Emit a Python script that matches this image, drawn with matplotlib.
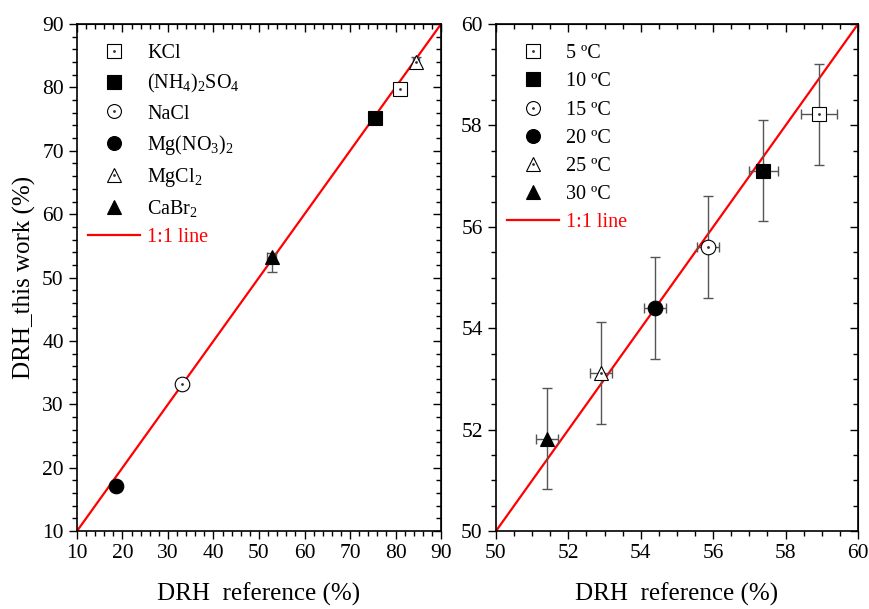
import matplotlib
matplotlib.use('Agg')
import matplotlib.pyplot as plt
from matplotlib.lines import Line2D
from matplotlib.ticker import MultipleLocator

plt.rcParams['font.family'] = ['Liberation Serif', 'DejaVu Serif']
plt.rcParams['mathtext.fontset'] = 'custom'
plt.rcParams['mathtext.rm'] = 'Liberation Serif'
plt.rcParams['mathtext.it'] = 'Liberation Serif:italic'

# Lewy panel - sole
sole = ['KCl', '(NH$_{\\mathrm{4}}$)$_{\\mathrm{2}}$SO$_{\\mathrm{4}}$', 'NaCl',
        'Mg(NO$_{\\mathrm{3}}$)$_{\\mathrm{2}}$', 'MgCl$_{\\mathrm{2}}$', 'CaBr$_{\\mathrm{2}}$']
x_sole = [81.0, 75.5, 33.0, 18.6, 84.5, 52.8]
y_sole = [79.7, 75.2, 33.2, 17.1, 84.0, 53.3]
xerr_sole = [0.6, 0.6, 0.6, 0.6, 0.6, 1.0]
yerr_sole_dol = [0.8, 0.8, 0.8, 0.8, 0.8, 2.4]
yerr_sole_gora = [0.8, 0.8, 0.8, 0.8, 0.8, 0.5]

# Prawy panel - temperatury
temp = ['5 ºC', '10 ºC', '15 ºC', '20 ºC', '25 ºC', '30 ºC']
x_temp = [58.92, 57.38, 55.86, 54.39, 52.90, 51.40]
y_temp = [58.22, 57.11, 55.60, 54.40, 53.12, 51.82]
xerr_temp = [0.5, 0.4, 0.3, 0.3, 0.3, 0.3]
yerr_temp = [1.0, 1.0, 1.0, 1.0, 1.0, 1.0]

markery = ['s', 's', 'o', 'o', '^', '^']
pelne = [False, True, False, True, False, True]

fig = plt.figure(figsize=(8.7, 6.09), dpi=100)
ax1 = fig.add_axes([0.0885, 0.128, 0.4184, 0.8325])
ax2 = fig.add_axes([0.5701, 0.128, 0.4161, 0.8325])


def rysuj(ax, xs, ys, xe, ye, etykiety, lim, major, minor):
    ax.plot(lim, lim, color='red', lw=1.6, zorder=2)
    uchwyty = []
    for i in range(len(xs)):
        fc = 'black' if pelne[i] else 'white'
        ax.errorbar(xs[i], ys[i], xerr=xe[i], yerr=[[ye[0][i]], [ye[1][i]]],
                    fmt='none', ecolor='#555555', elinewidth=1, capsize=3.5, zorder=3)
        ax.plot(xs[i], ys[i], marker=markery[i], ms=10.5, mfc=fc, mec='black',
                mew=0.8, ls='none', zorder=4)
        h = Line2D([], [], marker=markery[i], ms=10, mfc=fc, mec='black',
                   mew=0.8, ls='none')
        if not pelne[i]:
            ax.plot(xs[i], ys[i], marker='.', ms=2, color='#333333', zorder=5)
            h = (h, Line2D([], [], marker='.', ms=2, color='#333333', ls='none'))
        uchwyty.append(h)
    uchwyty.append(Line2D([], [], color='red', lw=1.6))
    leg = ax.legend(uchwyty, etykiety + ['1:1 line'], loc='upper left', frameon=False,
                    fontsize=14.5, handlelength=2.6, handletextpad=0.35,
                    labelspacing=0.45, borderaxespad=0.6,
                    bbox_to_anchor=(-0.025, 1.0))
    leg.get_texts()[-1].set_color('red')
    ax.set_xlim(lim)
    ax.set_ylim(lim)
    for a in (ax.xaxis, ax.yaxis):
        a.set_major_locator(MultipleLocator(major))
        a.set_minor_locator(MultipleLocator(minor))
    ax.tick_params(which='major', direction='out', length=6, width=1, labelsize=15.5)
    ax.tick_params(which='minor', direction='out', length=3.5, width=1)
    sx = ax.secondary_xaxis('top')
    sy = ax.secondary_yaxis('right')
    for s, a in ((sx, sx.xaxis), (sy, sy.yaxis)):
        a.set_major_locator(MultipleLocator(major))
        a.set_minor_locator(MultipleLocator(minor))
        s.tick_params(which='major', direction='in', length=6, width=1, labelsize=0,
                      labeltop=False, labelright=False)
        s.tick_params(which='minor', direction='in', length=3.5, width=1)
    for sp in ax.spines.values():
        sp.set_linewidth(1.2)
    ax.set_xlabel('DRH  reference (%)', fontsize=18, labelpad=14)


rysuj(ax1, x_sole, y_sole, xerr_sole, [yerr_sole_dol, yerr_sole_gora], sole,
      [10, 90], 10, 2)
rysuj(ax2, x_temp, y_temp, xerr_temp, [yerr_temp, yerr_temp], temp,
      [50, 60], 2, 0.5)
ax1.set_ylabel('DRH_this work (%)', fontsize=18, labelpad=4)

plt.savefig('out.png', dpi=100)
